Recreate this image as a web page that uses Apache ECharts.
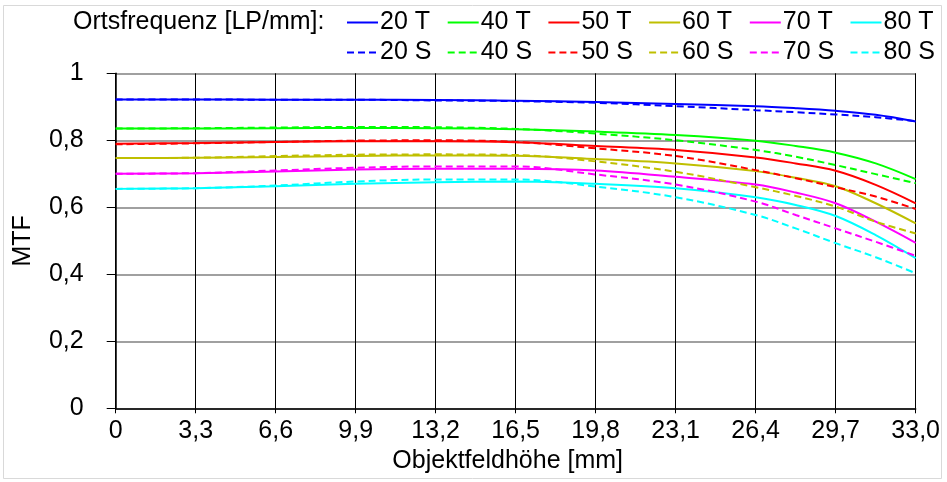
<!DOCTYPE html>
<html>
<head>
<meta charset="utf-8">
<script src="https://cdn.jsdelivr.net/npm/echarts@6/dist/echarts.min.js"></script>
<style>
  html, body { margin: 0; padding: 0; background: #fff; }
  #chart { width: 947px; height: 482px; }
</style>
</head>
<body>
<div id="chart"></div>
<script>
// Object field height positions [mm] at which MTF was sampled
var fieldHeights = [0, 3.3, 6.6, 9.9, 13.2, 16.5, 19.8, 23.1, 26.4, 28.05, 29.7, 31.35, 33];

// Spatial frequencies and line colours (T = tangential, S = sagittal)
var frequencies = ['20', '40', '50', '60', '70', '80'];
var lineColors = ['#0000ff', '#00ff00', '#ff0000', '#bfbf00', '#ff00ff', '#00ffff'];

// Tangential MTF values
var mtf20T = [0.922, 0.922, 0.921, 0.921, 0.920, 0.918, 0.914, 0.908, 0.902, 0.896, 0.888, 0.876, 0.856];
var mtf40T = [0.835, 0.835, 0.836, 0.837, 0.836, 0.833, 0.826, 0.816, 0.799, 0.783, 0.763, 0.731, 0.684];
var mtf50T = [0.790, 0.792, 0.795, 0.797, 0.797, 0.794, 0.783, 0.771, 0.749, 0.731, 0.709, 0.667, 0.612];
var mtf60T = [0.747, 0.748, 0.750, 0.753, 0.755, 0.754, 0.744, 0.731, 0.708, 0.688, 0.663, 0.612, 0.552];
var mtf70T = [0.700, 0.702, 0.707, 0.713, 0.715, 0.715, 0.710, 0.691, 0.668, 0.644, 0.612, 0.557, 0.494];
var mtf80T = [0.655, 0.657, 0.663, 0.670, 0.675, 0.677, 0.670, 0.657, 0.630, 0.607, 0.574, 0.517, 0.448];

// Sagittal MTF values
var mtf20S = [0.922, 0.922, 0.921, 0.921, 0.919, 0.917, 0.912, 0.902, 0.890, 0.884, 0.877, 0.869, 0.857];
var mtf40S = [0.835, 0.836, 0.838, 0.840, 0.839, 0.834, 0.820, 0.800, 0.771, 0.751, 0.726, 0.699, 0.672];
var mtf50S = [0.788, 0.791, 0.795, 0.799, 0.800, 0.795, 0.776, 0.753, 0.711, 0.687, 0.660, 0.632, 0.595];
var mtf60S = [0.747, 0.748, 0.753, 0.757, 0.758, 0.756, 0.737, 0.706, 0.660, 0.634, 0.602, 0.557, 0.522];
var mtf70S = [0.700, 0.702, 0.710, 0.718, 0.722, 0.722, 0.698, 0.668, 0.617, 0.577, 0.537, 0.497, 0.455];
var mtf80S = [0.655, 0.657, 0.665, 0.677, 0.683, 0.683, 0.662, 0.630, 0.577, 0.537, 0.493, 0.451, 0.403];

// Axis tick labels (German decimal comma)
var xTickLabels = ['0', '3,3', '6,6', '9,9', '13,2', '16,5', '19,8', '23,1', '26,4', '29,7', '33,0'];
var yTickLabels = ['0', '0,2', '0,4', '0,6', '0,8', '1'];

var tangential = [mtf20T, mtf40T, mtf50T, mtf60T, mtf70T, mtf80T];
var sagittal = [mtf20S, mtf40S, mtf50S, mtf60S, mtf70S, mtf80S];

var FONT = '"Liberation Sans", Arial, sans-serif';
var FS = 25;

function pairs(vals) {
  return fieldHeights.map(function (x, i) { return [x, vals[i]]; });
}

var series = [];
frequencies.forEach(function (f, i) {
  series.push({
    name: f + ' T', type: 'line', data: pairs(tangential[i]),
    smooth: 0.35, showSymbol: false, symbol: 'none',
    lineStyle: { color: lineColors[i], width: 2, type: 'solid' },
    itemStyle: { color: lineColors[i] },
    z: 3
  });
});
frequencies.forEach(function (f, i) {
  series.push({
    name: f + ' S', type: 'line', data: pairs(sagittal[i]),
    smooth: 0.35, showSymbol: false, symbol: 'none',
    lineStyle: { color: lineColors[i], width: 2, type: [7, 4] },
    itemStyle: { color: lineColors[i] },
    z: 4
  });
});

// One small vertical legend per frequency: T on the first row, S below.
// The line sample comes from the series; the centre marker is hidden.
var legends = frequencies.map(function (f, i) {
  return {
    orient: 'vertical',
    left: 346 + i * 100.7,
    top: 10,
    padding: 0,
    itemGap: 5,
    itemWidth: 31,
    itemHeight: 14,
    data: [f + ' T', f + ' S'],
    itemStyle: { opacity: 0, borderWidth: 0 },
    textStyle: { fontFamily: FONT, fontSize: FS, color: '#000', padding: [0, 0, 0, -3] },
    selectedMode: false
  };
});

var chart = echarts.init(document.getElementById('chart'), null, { renderer: 'canvas' });
chart.setOption({
  backgroundColor: '#ffffff',
  animation: false,
  textStyle: { fontFamily: FONT },
  title: {
    text: 'Ortsfrequenz [LP/mm]:',
    left: 73,
    top: 10,
    padding: 0,
    textStyle: { fontFamily: FONT, fontSize: FS, fontWeight: 'normal', color: '#000' }
  },
  legend: legends,
  graphic: [{
    type: 'rect',
    shape: { x: 3.5, y: 5.5, width: 938, height: 473 },
    style: { fill: 'none', stroke: '#d9d9d9', lineWidth: 1 },
    silent: true,
    z: -10
  }],
  grid: { left: 115.7, right: 31.3, top: 73.3, bottom: 73.7 },
  xAxis: {
    type: 'value',
    min: 0, max: 33, interval: 3.3,
    name: 'Objektfeldhöhe [mm]',
    nameLocation: 'middle',
    nameGap: 40,
    nameTextStyle: { fontFamily: FONT, fontSize: FS, color: '#000', padding: [0, 16, 0, 0] },
    axisLine: { show: true, onZero: false, lineStyle: { color: '#000', width: 1.5 } },
    axisTick: { show: true, length: 5, lineStyle: { color: '#000' } },
    axisLabel: {
      margin: 10, fontFamily: FONT, fontSize: FS, color: '#000',
      formatter: function (v) { return xTickLabels[Math.round(v / 3.3)]; }
    },
    splitLine: { show: true, lineStyle: { color: '#000', width: 1 } }
  },
  yAxis: {
    type: 'value',
    min: 0, max: 1, interval: 0.2,
    name: 'MTF',
    nameLocation: 'middle',
    nameGap: 80,
    nameRotate: 90,
    nameTextStyle: { fontFamily: FONT, fontSize: FS, color: '#000' },
    axisLine: { show: true, lineStyle: { color: '#000', width: 1.5 } },
    axisTick: { show: true, length: 9, lineStyle: { color: '#000' } },
    axisLabel: {
      margin: 32, fontFamily: FONT, fontSize: FS, color: '#000',
      formatter: function (v) { return yTickLabels[Math.round(v / 0.2)]; }
    },
    splitLine: { show: true, lineStyle: { color: '#808080', width: 1.5 } }
  },
  series: series
});
</script>
</body>
</html>
